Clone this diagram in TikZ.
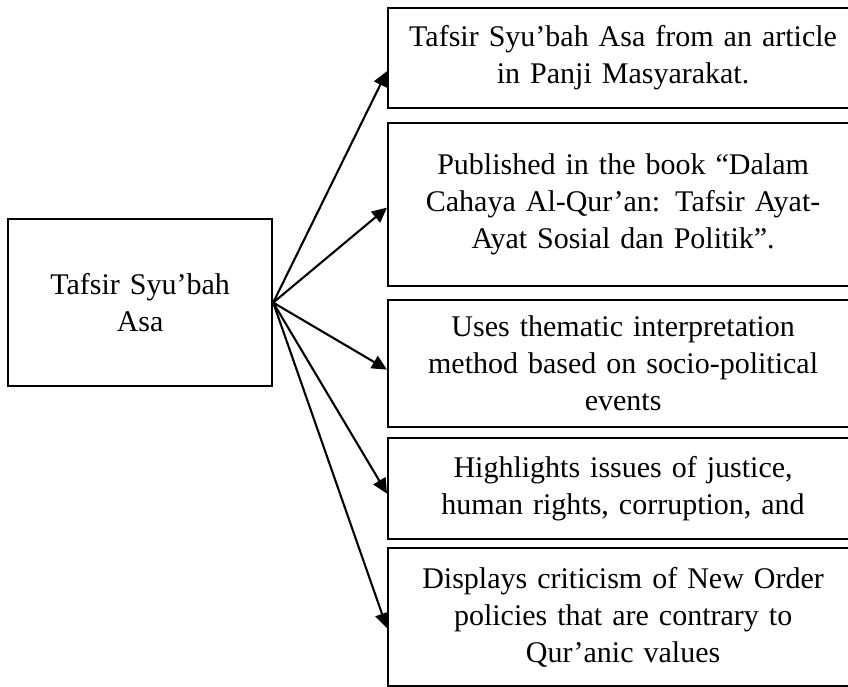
\documentclass[tikz,border=0pt]{standalone}
\usepackage{fontspec}
\setmainfont{Liberation Serif}
\usetikzlibrary{arrows.meta}
\begin{document}
\begin{tikzpicture}[x=1pt,y=-1pt,
  box/.style={draw=black,line width=2.2pt,rectangle,anchor=north west,
    inner xsep=15pt,inner ysep=0pt,text width=#1,align=center,
    font=\fontsize{30}{37}\selectfont},
  arr/.style={line width=2.1pt,-{Triangle[length=15pt,width=14pt]}}]
\useasboundingbox (0,0) rectangle (848,686);
\clip (0,0) rectangle (848,686);
\node[box=234pt,minimum width=264pt,minimum height=167pt] (src) at (7,218) {Tafsir Syu’bah\\Asa};
\node[box=440pt,minimum width=470pt,minimum height=100pt] (b1) at (387,7) {Tafsir Syu’bah Asa from an article\\in Panji Masyarakat.};
\node[box=440pt,minimum width=470pt,minimum height=163pt] (b2) at (387,122) {Published in the book “Dalam\\Cahaya Al-Qur’an: Tafsir Ayat-\\Ayat Sosial dan Politik”.};
\node[box=440pt,minimum width=470pt,minimum height=127pt] (b3) at (387,299) {Uses thematic interpretation\\method based on socio-political\\events};
\node[box=440pt,minimum width=470pt,minimum height=101pt] (b4) at (387,437) {Highlights issues of justice,\\human rights, corruption, and};
\node[box=440pt,minimum width=470pt,minimum height=138pt] (b5) at (387,547) {Displays criticism of New Order\\policies that are contrary to\\Qur’anic values};
\draw[arr] (src.east) -- ([yshift=-13pt]b1.west);
\draw[arr] (src.east) -- ([yshift=-3pt]b2.west);
\draw[arr] (src.east) -- ([yshift=-6pt]b3.west);
\draw[arr] (src.east) -- ([yshift=-5pt]b4.west);
\draw[arr] (src.east) -- ([yshift=-11pt]b5.west);
\end{tikzpicture}
\end{document}
